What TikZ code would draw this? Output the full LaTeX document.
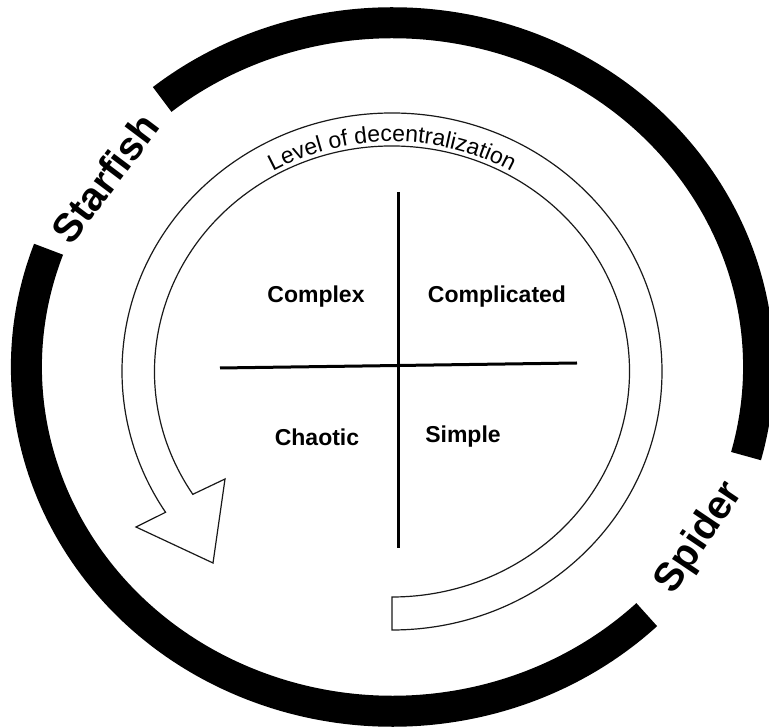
\documentclass[tikz,border=0pt]{standalone}
\usepackage{fontspec}
\setsansfont{Liberation Sans}
\usetikzlibrary{decorations.text}

\begin{document}
\begin{tikzpicture}[
    x=1pt, y=1pt,
    ring/.style={draw=black, line width=31pt},
    band/.style={draw=black!90, line width=1.2pt, fill=white},
    axis/.style={draw=black, line width=3pt},
    quad/.style={font=\sffamily\bfseries\fontsize{23}{23}\selectfont},
    side/.style={font=\sffamily\bfseries\fontsize{40}{40}\selectfont}
]
    % Frame and centres
    \useasboundingbox (0,0) rectangle (769,728);
    \coordinate (rc) at (392.5,361);
    \coordinate (bc) at (392,356.5);

    % Outer ring
    \draw [ring] ([shift={(-15:366pt and 344.25pt)}]rc) arc[start angle=-15, end angle=129, x radius=366pt, y radius=344.25pt];
    \draw [ring] ([shift={(160:366pt and 344.25pt)}]rc) arc[start angle=160, end angle=314, x radius=366pt, y radius=344.25pt];

    % Curved arrow
    \draw [band] ([shift={(-90:270pt and 258.5pt)}]bc) arc[start angle=-90, end angle=213, x radius=270pt, y radius=258.5pt]
        -- (136,201) -- (213,165) -- (225,249)
        -- ([shift={(213:237.5pt and 225.5pt)}]bc) arc[start angle=213, end angle=-90, x radius=237.5pt, y radius=225.5pt] -- cycle;
    \path [decorate, decoration={text along path, text align=center,
        text={|\sffamily\fontsize{23}{23}\selectfont|Level of decentralization}}]
        ([shift={(150:241.5pt and 229.8pt)}]bc) arc[start angle=150, end angle=30, x radius=241.5pt, y radius=229.8pt];

    % Cross
    \coordinate (top) at (398,536);
    \coordinate (bottom) at (398,180);
    \coordinate (left) at (220,360);
    \coordinate (right) at (577,365);
    \draw [axis] (top) -- (bottom);
    \draw [axis] (left) -- (right);

    % Labels
    \node [quad] (complex) at (316,431) {Complex};
    \node [quad] (complicated) at (497,431) {Complicated};
    \node [quad] (chaotic) at (317,291) {Chaotic};
    \node [quad] (simple) at (463,291) {Simple};
    \node [side, rotate=53] (starfish) at (105,550) {Starfish};
    \node [side, rotate=56] (spider) at (700,190) {Spider};
\end{tikzpicture}
\end{document}
